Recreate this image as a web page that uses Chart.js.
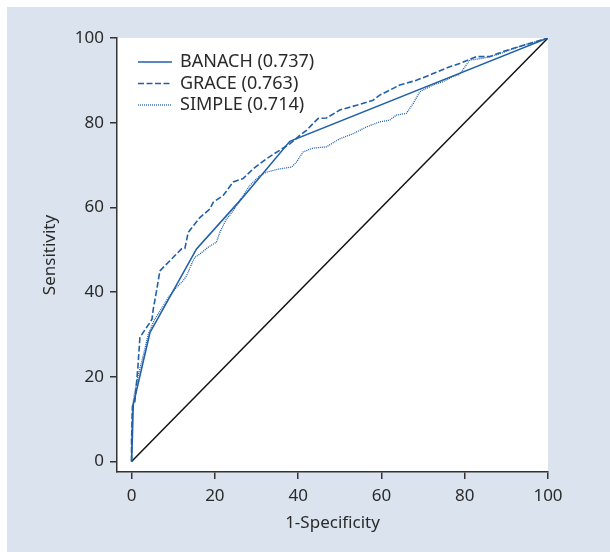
<!DOCTYPE html>
<html><head><meta charset="utf-8">
<script src="https://cdn.jsdelivr.net/npm/chart.js@4.4.1/dist/chart.umd.min.js"></script>
<style>html,body{margin:0;padding:0;background:#fff;}#wrap{width:610px;height:552px;position:relative;}</style>
</head><body><div id="wrap"><canvas id="c" width="610" height="552"></canvas></div>
<script>
const xTicks = [0, 20, 40, 60, 80, 100];
const yTicks = [0, 20, 40, 60, 80, 100];
const seriesNames = ['BANACH (0.737)', 'GRACE (0.763)', 'SIMPLE (0.714)'];
const xTitle = '1-Specificity';
const yTitle = 'Sensitivity';

const banachX = [0, 0.2, 0.4, 4.4, 15.6, 26.4, 38, 100];
const banachY = [0, 6, 13.4, 30.4, 50.2, 62, 75.6, 100];

const graceX = [0, 0, 0.2, 0.8, 1.5, 2, 2.2, 4.4, 4.9, 5.2, 6, 6.8, 9.2, 12, 12.8, 13.6, 16.4, 18.8, 19.6, 22, 24.4, 26.8, 29.2, 32.4, 35.6, 38, 40.4, 42, 42.8, 44.4, 44.8, 46.8, 50, 54, 58, 59.6, 64.4, 68.4, 72.4, 76.4, 78.8, 82.8, 86, 89.2, 93.2, 100];
const graceY = [0, 5, 13, 14.2, 22, 29.2, 29.6, 32.8, 33.6, 35.9, 40.3, 45, 47.4, 50.2, 50.3, 54.1, 57.6, 59.6, 61.2, 62.8, 66, 66.8, 69.1, 71.5, 73.5, 75, 77, 78.2, 79, 80.6, 81, 81.1, 83, 84.1, 85.3, 86.5, 88.9, 90, 91.6, 93.2, 94, 95.6, 95.6, 96.8, 98, 100];

const simpleX = [0, 0, 0.2, 0.5, 1.5, 2.8, 4, 5.5, 7.6, 9, 10.8, 12.4, 13.2, 14.4, 15.2, 16.4, 18.4, 20.4, 21.2, 22.8, 23.6, 25.6, 28.4, 30.8, 32.4, 35.6, 38.4, 39.6, 41.2, 43.6, 46.8, 50, 53.2, 56.4, 59.6, 62, 63.6, 66, 67.6, 69.2, 72.4, 74.8, 77.2, 78.8, 81.2, 84.4, 87.6, 93.2, 100];
const simpleY = [0, 6, 12, 15, 20, 25, 30, 33.5, 36.7, 39, 41.1, 42.7, 43.8, 46.6, 48.2, 49, 50.6, 51.8, 54.1, 57.3, 58.1, 61, 65.2, 67.5, 68.3, 69.1, 69.5, 70.7, 73.1, 74, 74.3, 76.2, 77.4, 79, 80.2, 80.6, 81.8, 82.2, 84.5, 87.3, 88.9, 89.7, 90.9, 91.4, 94.8, 95.2, 96, 98, 100];

const refX = [0, 100];
const refY = [0, 100];

const pts = (xs, ys) => xs.map((x, i) => ({x: x, y: ys[i]}));
const BLUE = '#2160a8';
const FONT = "'Noto Sans', 'Open Sans', sans-serif";
const TXT = '#2a2a2a';

const bgPlugin = {
  id: 'bg',
  beforeDraw(chart) {
    const {ctx, chartArea: a} = chart;
    ctx.save();
    ctx.fillStyle = '#ffffff';
    ctx.fillRect(0, 0, chart.width, chart.height);
    ctx.fillStyle = '#dbe4ee';
    ctx.fillRect(7, 7, chart.width - 7, chart.height - 7);
    ctx.fillStyle = '#ffffff';
    ctx.fillRect(a.left, a.top, a.right - a.left, a.bottom - a.top);
    ctx.restore();
  }
};

const legendPlugin = {
  id: 'customLegend',
  afterDatasetsDraw(chart) {
    const {ctx} = chart;
    ctx.save();
    const ys = [62, 83.5, 105];
    for (let i = 0; i < 3; i++) {
      const ds = chart.data.datasets[i];
      ctx.strokeStyle = ds.borderColor;
      ctx.lineWidth = ds.borderWidth;
      ctx.setLineDash(ds.borderDash || []);
      ctx.beginPath();
      ctx.moveTo(138, ys[i]);
      ctx.lineTo(172, ys[i]);
      ctx.stroke();
      ctx.setLineDash([]);
      ctx.fillStyle = TXT;
      ctx.font = '18px ' + FONT;
      ctx.textBaseline = 'middle';
      ctx.textAlign = 'left';
      ctx.fillText(seriesNames[i], 180, ys[i]);
    }
    ctx.restore();
  }
};

Chart.defaults.font.family = FONT;
Chart.defaults.font.size = 17;
Chart.defaults.color = TXT;

new Chart(document.getElementById('c'), {
  type: 'scatter',
  data: {
    datasets: [
      {label: seriesNames[0], data: pts(banachX, banachY), showLine: true, borderColor: BLUE, borderWidth: 1.6, pointRadius: 0, tension: 0},
      {label: seriesNames[1], data: pts(graceX, graceY), showLine: true, borderColor: BLUE, borderWidth: 1.6, borderDash: [6, 2.5], pointRadius: 0, tension: 0},
      {label: seriesNames[2], data: pts(simpleX, simpleY), showLine: true, borderColor: BLUE, borderWidth: 1.3, borderDash: [1, 1], pointRadius: 0, tension: 0},
      {label: 'ref', data: pts(refX, refY), showLine: true, borderColor: '#111', borderWidth: 1.5, pointRadius: 0}
    ]
  },
  options: {
    responsive: false,
    animation: false,
    layout: {padding: {left: 0, top: 38, right: 62, bottom: 0}},
    plugins: {legend: {display: false}, tooltip: {enabled: false}},
    scales: {
      x: {
        type: 'linear', min: -3.5, max: 100,
        afterBuildTicks: s => { s.ticks = xTicks.map(v => ({value: v})); },
        afterFit: s => { s.height = 80; },
        grid: {drawOnChartArea: false, drawTicks: true, tickLength: 7, color: '#333', lineWidth: 1.5},
        border: {display: true, color: '#333', width: 1.5},
        ticks: {padding: 7, color: TXT, font: {size: 17}, maxRotation: 0},
        title: {display: true, text: xTitle, color: TXT, font: {size: 17}, padding: {top: 0, bottom: 19}}
      },
      y: {
        type: 'linear', min: -2.5, max: 100,
        afterBuildTicks: s => { s.ticks = yTicks.map(v => ({value: v})); },
        afterFit: s => { s.width = 117; },
        grid: {drawOnChartArea: false, drawTicks: true, tickLength: 7, color: '#333', lineWidth: 1.5},
        border: {display: true, color: '#333', width: 1.5},
        ticks: {padding: 6, color: TXT, font: {size: 17}},
        title: {display: true, text: yTitle, color: TXT, font: {size: 17}, padding: {top: 40, bottom: 0}}
      }
    }
  },
  plugins: [bgPlugin, legendPlugin]
});
</script></body></html>
